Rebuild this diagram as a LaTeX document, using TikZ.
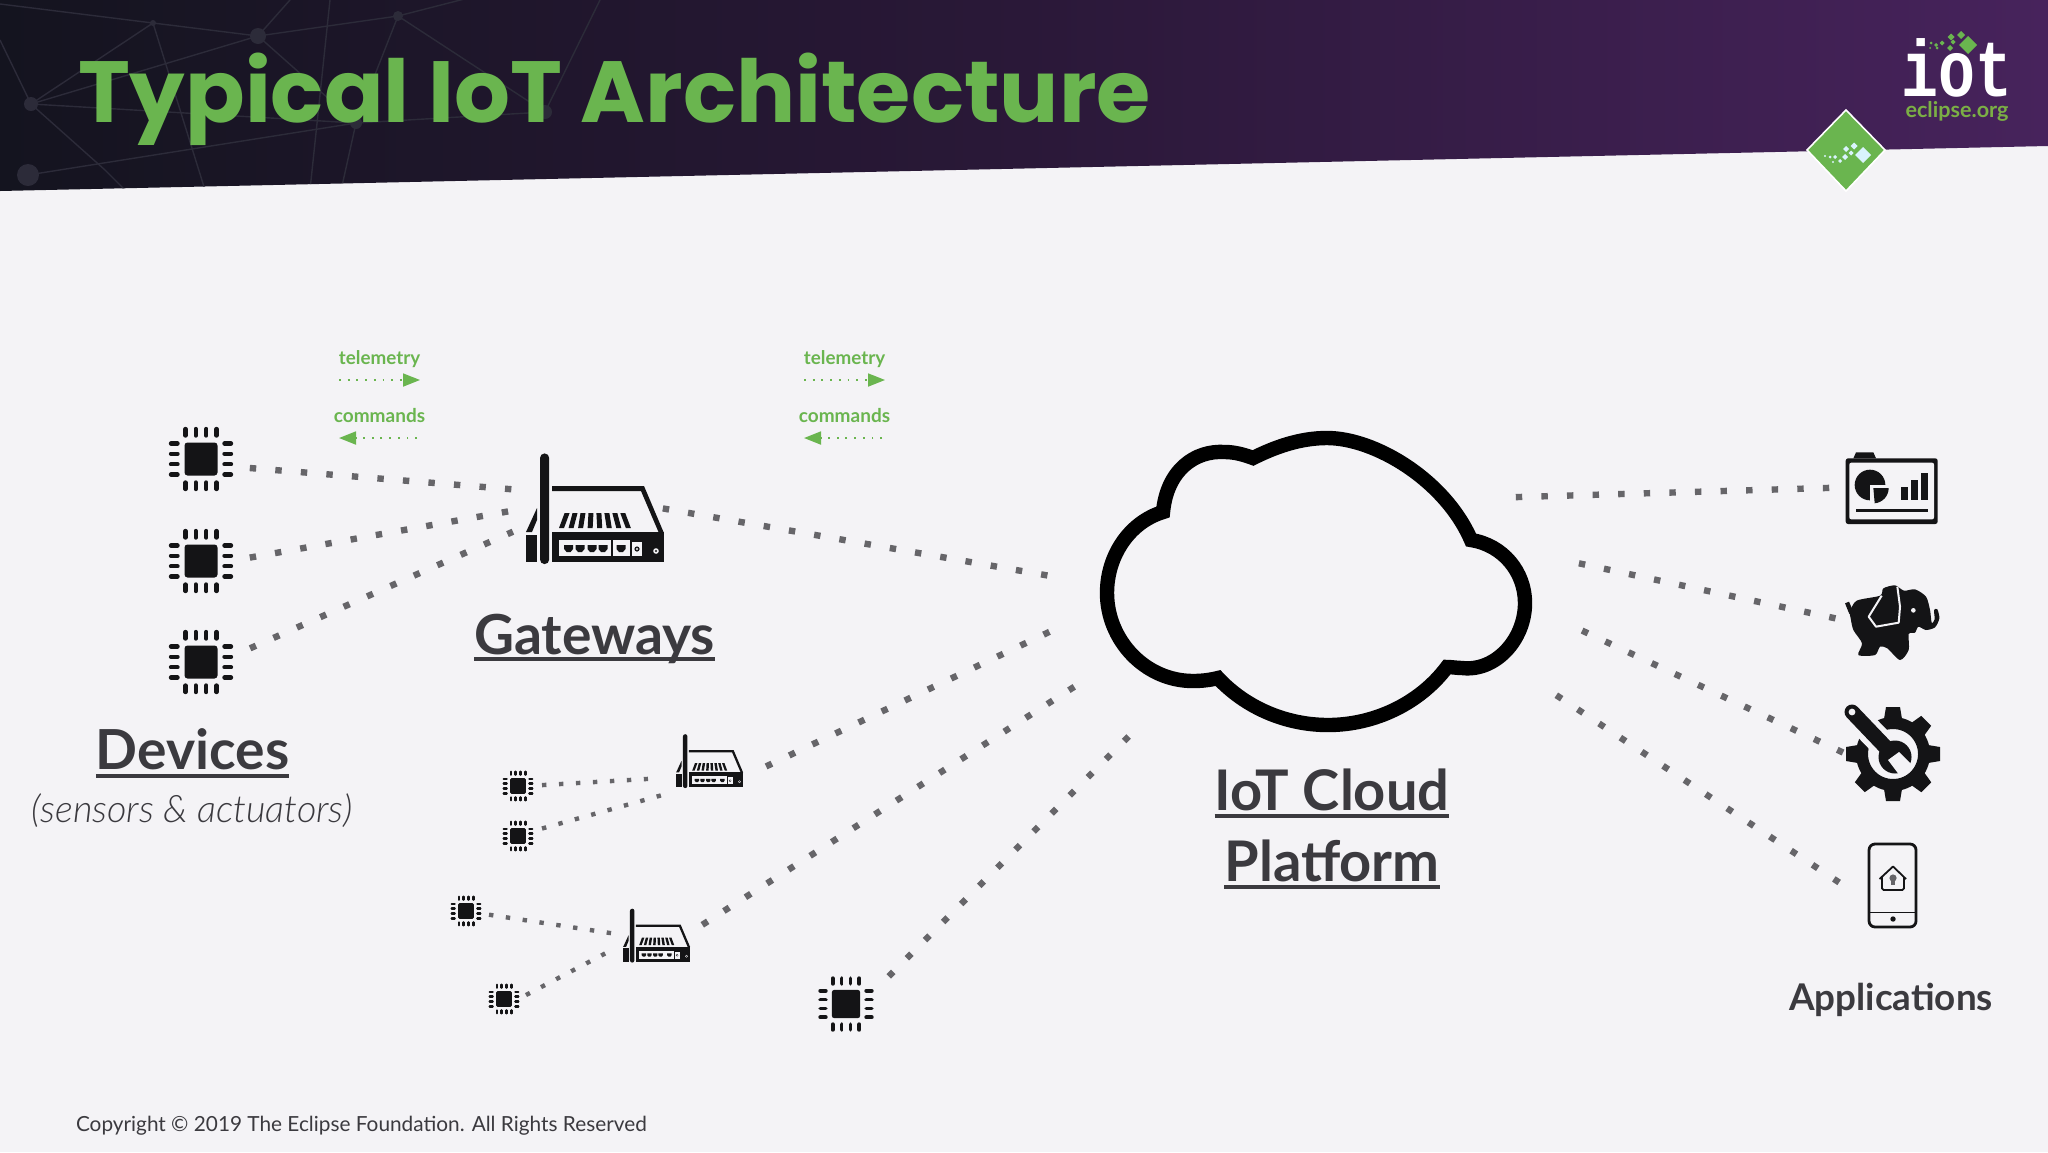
\documentclass[tikz,border=0pt]{standalone}
\usepackage{fontspec}
\setmainfont{Lato}
\newfontfamily\titlefont{Poppins}[UprightFont=*-Bold]
\newfontfamily\logofont{Liberation Mono}[UprightFont=* Bold]
\newfontfamily\lightfont{Lato}[UprightFont=* Light,ItalicFont=* Light Italic]
\usetikzlibrary{calc,arrows.meta}
\definecolor{pagebg}{HTML}{F4F3F6}
\definecolor{hdrA}{HTML}{14141F}
\definecolor{hdrB}{HTML}{2A1838}
\definecolor{hdrC}{HTML}{47235C}
\definecolor{net}{HTML}{2C2B39}
\definecolor{leaf}{HTML}{6AB54F}
\definecolor{leafdk}{HTML}{7BAF45}
\definecolor{dotc}{HTML}{666569}
\definecolor{ink}{HTML}{3B3A3F}
\definecolor{blk}{HTML}{141416}
\tikzset{
  x=0.5pt,y=-0.5pt,
  lbl/.style={inner sep=0pt,outer sep=0pt,text=ink,font=\bfseries},
  bigdots/.style={draw=dotc,line width=3.2pt,dash pattern=on 3.2pt off 9.6pt},
  smalldots/.style={draw=dotc,line width=2.2pt,dash pattern=on 2.2pt off 6.3pt},
  uline/.style={draw=ink,line width=2pt},
  tele/.style={draw=leaf,line width=0.9pt,dash pattern=on 0.9pt off 3.45pt,-{Triangle[length=8.5pt,width=6.5pt,fill=leaf]}},
  netl/.style={draw=net,line width=0.7pt},
  pics/chip/.style={code={
    \begin{scope}[scale=#1]
      \fill[blk,rounded corners=#1*1.5pt] (-16.5,-16.5) rectangle (16.5,16.5);
      \foreach \p in {-15.5,-5.2,5.2,15.5}{
        \draw[blk,line width=#1*2.2pt,line cap=round] (\p,-30) -- (\p,-23.5);
        \draw[blk,line width=#1*2.2pt,line cap=round] (\p,30) -- (\p,23.5);
        \draw[blk,line width=#1*2.2pt,line cap=round] (-30,\p) -- (-23.5,\p);
        \draw[blk,line width=#1*2.2pt,line cap=round] (30,\p) -- (23.5,\p);
      }
    \end{scope}
  }},
  pics/router/.style={code={
    \begin{scope}[scale=#1,shift={(-594.5,-508.5)}]
      \fill[blk] (540,458) arc[start angle=180,end angle=360,radius=4.6] -- (549.2,559.5) arc[start angle=0,end angle=180,radius=4.6] -- cycle;
      \fill[blk] (526,535) -- (537,535) -- (537,562) -- (526,562) -- cycle;
      \fill[blk] (526,532) -- (537,508) -- (537,520) -- (532,532) -- cycle;
      \fill[blk] (552,532) -- (663.5,532) -- (663.5,562) -- (552,562) -- cycle;
      \fill[blk] (552,486) -- (644,486) -- (663.5,532) -- (658.5,532) -- (641,491) -- (552,491) -- cycle;
      \foreach \i in {0,...,7}{
        \pgfmathsetmacro\xb{561.5+\i*9.55}
        \pgfmathsetmacro\xt{\xb+(3.5-\i)*1.6}
        \fill[blk] (\xb-2.5,528) -- (\xb+2.5,528) -- (\xt+2.5,513) -- (\xt-2.5,513) -- cycle;
      }
      \fill[pagebg] (559,540) rectangle (611,556);
      \fill[pagebg] (612.5,540) rectangle (629.5,556);
      \fill[pagebg] (632,542) rectangle (642,556);
      \foreach \q in {568.6,580,592,603,621}{
        \fill[blk] (\q-4.5,545) -- (\q+4.5,545) -- (\q+4.5,549) -- (\q+2,552) -- (\q-2,552) -- (\q-4.5,549) -- cycle;
      }
      \fill[blk] (637,549) circle[radius=2.6];
      \fill[pagebg] (637,549) circle[radius=1.2];
      \fill[pagebg] (656,551) circle[radius=2.8];
      \fill[blk] (656,551) circle[radius=1.2];
    \end{scope}
  }},
}
\begin{document}
\begin{tikzpicture}
\useasboundingbox (0,0) rectangle (2048,1152);
\fill[pagebg] (0,0) rectangle (2048,1152);
% header band
\shade[left color=hdrA,right color=hdrC,middle color=hdrB] (0,0) -- (2048,0) -- (2048,146) -- (0,191) -- cycle;
\begin{scope}
  \clip (0,0) -- (2048,0) -- (2048,146) -- (0,191) -- cycle;
  \draw[netl] (0,4) -- (153,23) -- (258,36) -- (398,16) -- (480,-5);
  \draw[netl] (31,104) -- (153,23) (31,104) -- (258,36) (31,104) -- (0,40);
  \draw[netl] (31,104) -- (105,170) -- (130,195) (31,104) -- (356,123);
  \draw[netl] (28,175) -- (356,123) -- (545,112) -- (600,0);
  \draw[netl] (258,36) -- (356,123) (398,16) -- (545,112) (398,16) -- (356,123) -- (340,195);
  \draw[netl] (153,23) -- (205,190) (330,0) -- (310,190) (290,0) -- (258,36);
  \fill[net] (258,36) circle[radius=8] (398,16) circle[radius=5] (31,104) circle[radius=7]
             (28,175) circle[radius=11] (545,112) circle[radius=7] (356,123) circle[radius=6] (153,23) circle[radius=3];
\end{scope}
\node[lbl,anchor=base west,text=leaf,font=\titlefont\fontsize{43.4}{50}\selectfont,xscale=1.012] (title) at (78,122) {Typical IoT Architecture};
% logo
\node[inner sep=0pt,anchor=base,text=white,font=\logofont\fontsize{40}{42}\selectfont,xscale=.77] (iot) at (1957,96) {iot};
\node[inner sep=0pt,anchor=base,text=leafdk,font=\bfseries\fontsize{10.8}{12}\selectfont] (eclipse) at (1957,117) {eclipse.org};
\foreach \x/\y/\r in {1968/45/9,1961/35/4,1951/37/3.5,1953/42/2.5,1950/48/3,1942/43/2.5,1936/45/2,1931/43/1.5,1937/48/1.5,1930/48/1}{
  \fill[leaf] (\x-\r,\y) -- (\x,\y-\r) -- (\x+\r,\y) -- (\x,\y+\r) -- cycle;
}
\fill[leaf,draw=white,line width=.8pt] (1807,150) -- (1846,110) -- (1885,150) -- (1846,191) -- cycle;
\foreach \x/\y/\r in {1863/155/8,1854/146/3.5,1846/149/3,1851/153/2.5,1845/157/3,1840/161/2,1835/157/2,1830/157/1.5,1825/156/1.2,1833/162/1.2}{
  \fill[white!85!cyan] (\x-\r,\y) -- (\x,\y-\r) -- (\x+\r,\y) -- (\x,\y+\r) -- cycle;
}
% telemetry / commands legends
\foreach \n/\dx in {a/0,b/465}{
  \node[lbl,anchor=base,text=leaf,font=\bfseries\fontsize{9.4}{11}\selectfont] (tele\n) at (379.5+\dx,364) {telemetry};
  \node[lbl,anchor=base,text=leaf,font=\bfseries\fontsize{9.5}{11}\selectfont] (cmd\n) at (379.5+\dx,422) {commands};
  \coordinate (ta\n) at (339+\dx,380);
  \coordinate (tb\n) at (420+\dx,380);
  \coordinate (ca\n) at (417+\dx,438);
  \coordinate (cb\n) at (339+\dx,438);
  \draw[tele] (ta\n) -- (tb\n);
  \draw[tele] (ca\n) -- (cb\n);
}
% chips
\pic at (201,459) {chip=1};
\pic at (201,561) {chip=1};
\pic at (201,662) {chip=1};
\pic at (518,786) {chip=.48};
\pic at (518,836) {chip=.48};
\pic at (466,911) {chip=.48};
\pic at (504,999) {chip=.48};
\pic at (846,1004) {chip=.86};
% routers
\pic at (594.5,508.5) {router=1};
\pic at (709.5,761) {router=.487};
\pic at (656.5,935.5) {router=.487};
% cloud
\draw[black,line width=7.2pt,miter limit=10] (1163,512) .. controls (1167,470) and (1195,450) .. (1225,452)
  .. controls (1235,452) and (1245,455) .. (1253,458)
  .. controls (1275,447) and (1300,438) .. (1327,438)
  .. controls (1375,438) and (1445,480) .. (1471,540)
  .. controls (1503,545) and (1525,572) .. (1525,603)
  .. controls (1525,640) and (1495,672) .. (1462,668)
  .. controls (1457,668) and (1452,667) .. (1447,667)
  .. controls (1420,703) and (1375,725) .. (1328,725)
  .. controls (1285,725) and (1245,707) .. (1218,678)
  .. controls (1210,680) and (1202,681) .. (1193,681)
  .. controls (1145,681) and (1107,640) .. (1107,593)
  .. controls (1107,555) and (1130,522) .. cycle;
% dotted connector ends
\coordinate (c1o) at (249.8,468);  \coordinate (g1i) at (512.2,489.3);
\coordinate (c2o) at (249.8,557.6);\coordinate (g2i) at (508.2,511.4);
\coordinate (c3o) at (250.1,648.3);\coordinate (g3i) at (512.9,531.7);
\coordinate (gwo) at (662.8,508.4);\coordinate (cl1) at (1048.2,575.6);
\coordinate (s1o) at (766.1,766.4);\coordinate (cl2) at (1049.9,631.6);
\coordinate (s2o) at (702.3,924.8);\coordinate (cl3) at (1076.7,685.2);
\coordinate (b1o) at (888.7,976.3);\coordinate (cl4) at (1132.3,732.7);
\coordinate (r1a) at (1515.8,497.1);\coordinate (a1i) at (1829.2,487.9);
\coordinate (r2a) at (1578.9,563.3);\coordinate (a2i) at (1837.1,618.7);
\coordinate (r3a) at (1582.1,630.6);\coordinate (a3i) at (1844.9,753.4);
\coordinate (r4a) at (1556.3,695.2);\coordinate (a4i) at (1842.7,884.8);
\draw[bigdots] (c1o) -- (g1i);
\draw[bigdots] (c2o) -- (g2i);
\draw[bigdots] (c3o) -- (g3i);
\draw[bigdots] (gwo) -- (cl1);
\draw[bigdots] (s1o) -- (cl2);
\draw[bigdots] (s2o) -- (cl3);
\draw[bigdots] (b1o) -- (cl4);
\draw[bigdots] (r1a) -- (a1i);
\draw[bigdots] (r2a) -- (a2i);
\draw[bigdots] (r3a) -- (a3i);
\draw[bigdots] (r4a) -- (a4i);
\coordinate (k1o) at (542,785.1);\coordinate (h1i) at (648,778.9);
\coordinate (k2o) at (542,828.5);\coordinate (h2i) at (661,795.4);
\coordinate (k3o) at (489,914.7);\coordinate (h3i) at (612,933.3);
\coordinate (k4o) at (526,995);  \coordinate (h4i) at (606,953);
\draw[smalldots] (k1o) -- (h1i);
\draw[smalldots] (k2o) -- (h2i);
\draw[smalldots] (k3o) -- (h3i);
\draw[smalldots] (k4o) -- (h4i);
% app 1: dashboard
\begin{scope}[shift={(1800,430)},scale=1/3]
  \fill[blk,rounded corners=1.2pt] (137,85) rectangle (413,282);
  \fill[blk] (160,85) -- (168,67) -- (220,67) -- (228,85) -- cycle;
  \fill[pagebg,rounded corners=1pt] (148,98) rectangle (402,268);
  \fill[blk] (210,165) circle[radius=46];
  \fill[pagebg] (210,165) rectangle (270,225);
  \fill[blk] (220,174) -- (266,174) arc[start angle=0,end angle=85,radius=46] -- cycle;
  \fill[blk] (303,170) rectangle (323,210);
  \fill[blk] (333,150) rectangle (353,210);
  \fill[blk] (363,130) rectangle (383,210);
  \fill[blk] (168,238) rectangle (385,247);
\end{scope}
% app 2: elephant
\begin{scope}[shift={(1800,430)},scale=1/3]
  \fill[blk] plot[smooth cycle,tension=.45] coordinates {
    (150,545) (170,512) (240,497) (250,475) (285,466) (312,482) (345,478) (378,500) (390,540) (395,578)
    (404,568) (402,540) (412,538) (418,565) (405,592) (378,600) (355,590) (345,608) (326,612) (326,660) (300,690)
    (262,655) (240,650) (225,675) (175,675) (186,640) (160,600) (152,565)};
  \fill[blk] (135,520) -- (147,515) -- (160,545) -- (148,552) -- cycle;
  \draw[pagebg,line width=1pt,line join=round] (245,497) -- (206,560) -- (228,590) -- (296,578) -- (300,530) -- (292,470);
  \fill[pagebg] (340,541) circle[radius=7];
\end{scope}
% app 3: gear and wrench
\begin{scope}[shift={(1893,754)}]
  \draw[blk,line width=6pt] (0,0) circle[radius=31];
  \foreach \a in {0,45,...,315}{
    \fill[blk,rotate=\a] (35,-9) -- (47,-7) -- (47,7) -- (35,9) -- cycle;
  }
  \draw[pagebg,line width=13pt] (-56,-57) -- (2,3);
  \fill[pagebg] (2,3) circle[radius=21];
  \draw[blk,line width=7.5pt,line cap=round] (-41,-42) -- (2,3);
  \fill[blk] (2,3) circle[radius=16.5];
  \fill[pagebg] (-5,6) -- (6,-2) -- (19,11) -- (7,22) -- cycle;
  \fill[pagebg] (-41,-42) circle[radius=3.4];
\end{scope}
% app 4: phone
\draw[blk,line width=1.4pt,rounded corners=3pt] (1869,844) rectangle (1916,927);
\draw[blk,line width=.5pt] (1869,912) -- (1916,912);
\fill[blk] (1893,919) circle[radius=2.7];
\draw[blk,line width=.9pt,line join=round] (1879.5,879) -- (1893,866.5) -- (1906,879);
\draw[blk,line width=.9pt,rounded corners=.8pt] (1882,877) -- (1882,890) -- (1904,890) -- (1904,877);
\fill[dotc] (1893,878) circle[radius=3.6];
\fill[dotc] (1891,880) rectangle (1895,885);
% labels
\node[lbl,anchor=base,font=\bfseries\fontsize{27.6}{30}\selectfont] (gw) at (594.5,654) {Gateways};
\draw[uline] ($(gw.base west)+(0,5)$) -- ($(gw.base east)+(0,5)$);
\node[lbl,anchor=base,font=\bfseries\fontsize{27.6}{30}\selectfont] (dev) at (192.6,769) {Devices};
\draw[uline] ($(dev.base west)+(0,7)$) -- ($(dev.base east)+(0,7)$);
\node[lbl,anchor=base,font=\lightfont\itshape\fontsize{18.9}{22}\selectfont] (devsub) at (192,822) {(sensors \& actuators)};
\node[lbl,anchor=base,font=\bfseries\fontsize{28}{30}\selectfont] (cld1) at (1332,810) {IoT Cloud};
\draw[uline] ($(cld1.base west)+(0,6)$) -- ($(cld1.base east)+(0,6)$);
\node[lbl,anchor=base,font=\bfseries\fontsize{28}{30}\selectfont] (cld2) at (1332,881) {Platform};
\draw[uline] ($(cld2.base west)+(0,6)$) -- ($(cld2.base east)+(0,6)$);
\node[lbl,anchor=base,font=\bfseries\fontsize{18.4}{22}\selectfont] (apps) at (1891,1010) {Applications};
\node[lbl,anchor=base west,font=\fontsize{10.4}{13}\selectfont] (copy) at (76,1131) {Copyright © 2019 The Eclipse Foundation. All Rights Reserved};
\end{tikzpicture}
\end{document}
